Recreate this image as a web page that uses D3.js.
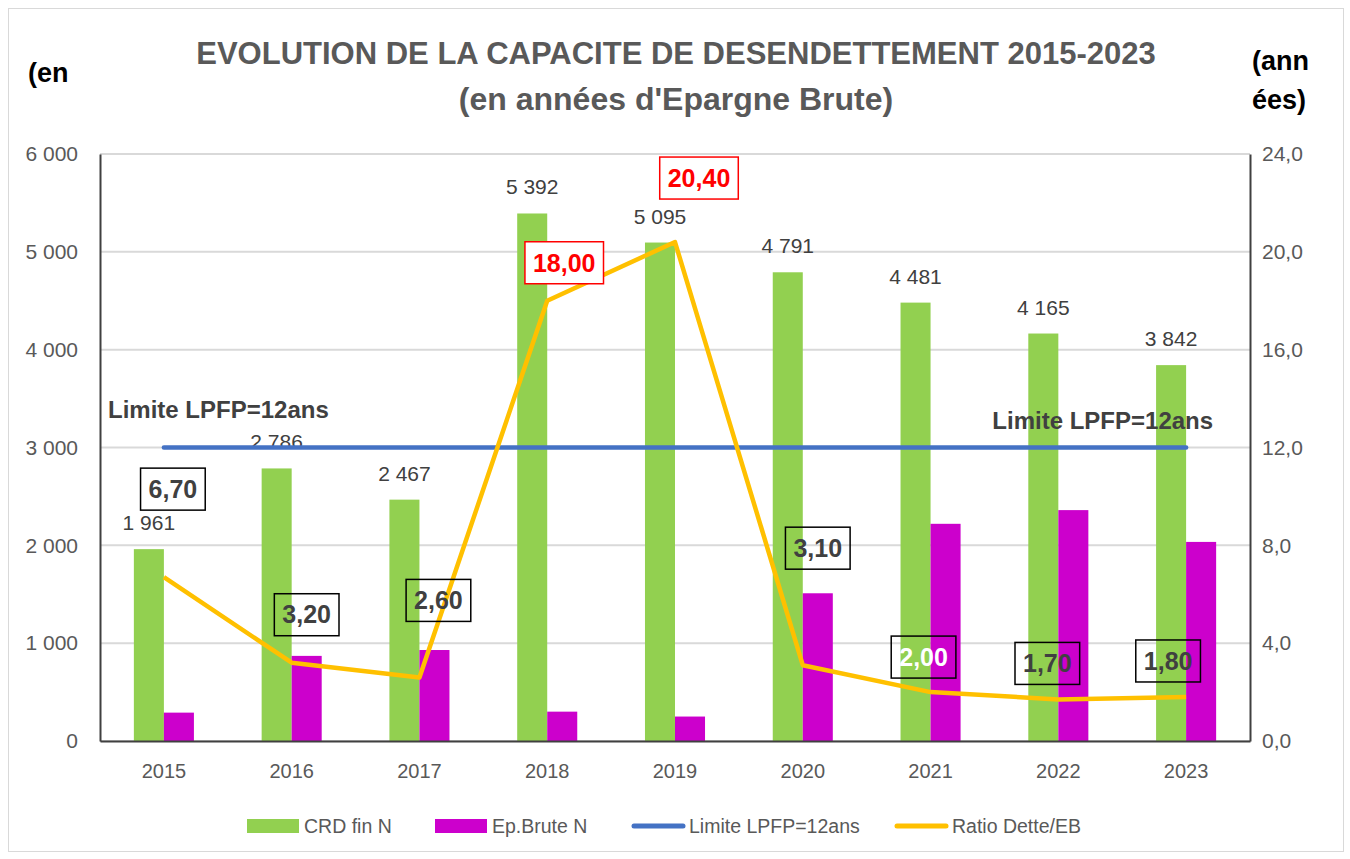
<!DOCTYPE html>
<html>
<head>
<meta charset="utf-8">
<script src="https://cdn.jsdelivr.net/npm/d3@7"></script>
<style>
  body { margin: 0; background: #fff; }
  text { font-family: "Liberation Sans", Arial, sans-serif; }
</style>
</head>
<body>
<div id="chart"></div>
<script>
// data
var years = ['2015', '2016', '2017', '2018', '2019', '2020', '2021', '2022', '2023'];
var crdFin = [1961, 2786, 2467, 5392, 5095, 4791, 4481, 4165, 3842];
var epBrute = [290, 870, 930, 300, 250, 1510, 2220, 2360, 2035];
var ratio = [6.70, 3.20, 2.60, 18.00, 20.40, 3.10, 2.00, 1.70, 1.80];
var limite = [12, 12, 12, 12, 12, 12, 12, 12, 12];
var leftTicks = [0, 1000, 2000, 3000, 4000, 5000, 6000];
var rightTicks = [0, 4, 8, 12, 16, 20, 24];

// label placement (offset from the line point, px)
var ratioLabelOffset = [[9, -88], [15, -48], [19, -77], [17, -38], [24, -64], [15, -117], [-7, -35], [-11, -36], [-18, -36]];
var ratioLabelStyle = ['dark', 'dark', 'dark', 'red', 'red', 'dark', 'white', 'dark', 'dark'];

var dimensions = {
  width: 1350,
  height: 859,
  margin: { top: 154, bottom: 118, left: 100, right: 100 }
};
dimensions.containerWidth = dimensions.width - dimensions.margin.left - dimensions.margin.right;
dimensions.containerHeight = dimensions.height - dimensions.margin.top - dimensions.margin.bottom;

var svg = d3.select('#chart')
  .append('svg')
  .attr('width', dimensions.width)
  .attr('height', dimensions.height);

// outer frame
svg.append('rect')
  .attr('x', 8.5).attr('y', 8.5)
  .attr('width', 1335).attr('height', 843)
  .attr('fill', '#fff')
  .attr('stroke', '#d9d9d9');

var container = svg.append('g')
  .attr('transform', 'translate(' + dimensions.margin.left + ',' + dimensions.margin.top + ')');

// scales
var xScale = d3.scaleBand()
  .domain(years)
  .range([0, dimensions.containerWidth]);

var yLeft = d3.scaleLinear()
  .domain([0, 6000])
  .range([dimensions.containerHeight, 0]);

var yRight = d3.scaleLinear()
  .domain([0, 24])
  .range([dimensions.containerHeight, 0]);

var barW = xScale.bandwidth() * 0.235;
var cx = (d) => xScale(d) + xScale.bandwidth() / 2;

// gridlines
container.append('g')
  .selectAll('line')
  .data(leftTicks)
  .join('line')
  .attr('x1', 0)
  .attr('x2', dimensions.containerWidth)
  .attr('y1', d => yLeft(d))
  .attr('y2', d => yLeft(d))
  .attr('stroke', '#d9d9d9')
  .attr('stroke-width', 2);

// bars
container.append('g')
  .selectAll('rect')
  .data(years)
  .join('rect')
  .attr('x', d => cx(d) - barW)
  .attr('y', (d, i) => yLeft(crdFin[i]))
  .attr('width', barW)
  .attr('height', (d, i) => dimensions.containerHeight - yLeft(crdFin[i]))
  .attr('fill', '#92d050');

container.append('g')
  .selectAll('rect')
  .data(years)
  .join('rect')
  .attr('x', d => cx(d))
  .attr('y', (d, i) => yLeft(epBrute[i]))
  .attr('width', barW)
  .attr('height', (d, i) => dimensions.containerHeight - yLeft(epBrute[i]))
  .attr('fill', '#cc00cc');

// bar value labels
var fmtInt = (v) => d3.format(',')(v).replace(/,/g, ' ');
container.append('g')
  .selectAll('text')
  .data(years)
  .join('text')
  .attr('x', d => cx(d) - barW / 2)
  .attr('y', (d, i) => yLeft(crdFin[i]) - 19)
  .attr('text-anchor', 'middle')
  .attr('font-size', 21)
  .attr('fill', '#404040')
  .text((d, i) => fmtInt(crdFin[i]));

// limit line
var line = (ys) => d3.line()
  .x((d, i) => cx(years[i]))
  .y(d => ys(d));

container.append('path')
  .datum(limite)
  .attr('d', line(yRight))
  .attr('fill', 'none')
  .attr('stroke', '#4472c4')
  .attr('stroke-width', 4.5)
  .attr('stroke-linecap', 'round');

// ratio line
container.append('path')
  .datum(ratio)
  .attr('d', line(yRight))
  .attr('fill', 'none')
  .attr('stroke', '#ffc000')
  .attr('stroke-width', 4.5)
  .attr('stroke-linejoin', 'round');

// limit text
container.append('text')
  .attr('x', 8)
  .attr('y', yRight(12) - 30)
  .attr('font-size', 24)
  .attr('font-weight', 'bold')
  .attr('fill', '#404040')
  .text('Limite LPFP=12ans');

container.append('text')
  .attr('x', cx(years[8]) + 27)
  .attr('y', yRight(12) - 19)
  .attr('text-anchor', 'end')
  .attr('font-size', 24)
  .attr('font-weight', 'bold')
  .attr('fill', '#404040')
  .text('Limite LPFP=12ans');

// ratio labels
var fmtDec = (v) => v.toFixed(2).replace('.', ',');
var labels = container.append('g')
  .selectAll('g')
  .data(ratio)
  .join('g')
  .attr('transform', (d, i) => 'translate(' + (cx(years[i]) + ratioLabelOffset[i][0]) + ',' + (yRight(d) + ratioLabelOffset[i][1]) + ')');

labels.append('text')
  .attr('text-anchor', 'middle')
  .attr('dy', '0.35em')
  .attr('font-size', 25)
  .attr('font-weight', 'bold')
  .attr('fill', (d, i) => ratioLabelStyle[i] === 'red' ? '#ff0000' : ratioLabelStyle[i] === 'white' ? '#ffffff' : '#404040')
  .text(d => fmtDec(d));

labels.each(function(d, i) {
  var g = d3.select(this);
  var bb = g.select('text').node().getBBox();
  g.insert('rect', 'text')
    .attr('x', bb.x - 8)
    .attr('y', -21)
    .attr('width', bb.width + 16)
    .attr('height', 42)
    .attr('fill', ratioLabelStyle[i] === 'red' ? '#ffffff' : 'none')
    .attr('stroke', ratioLabelStyle[i] === 'red' ? '#ff0000' : '#000')
    .attr('stroke-width', 1.5);
});

// axes
var xAxis = d3.axisBottom(xScale).tickSize(0).tickPadding(23);
var xAxisGroup = container.append('g')
  .attr('transform', 'translate(0,' + dimensions.containerHeight + ')')
  .call(xAxis);
xAxisGroup.select('.domain').attr('stroke', '#404040').attr('stroke-width', 2);
xAxisGroup.selectAll('text').attr('font-size', 20).attr('fill', '#595959')
  .attr('font-family', '"Liberation Sans", Arial, sans-serif');

var yAxisL = d3.axisLeft(yLeft).tickValues(leftTicks).tickSize(0).tickPadding(22)
  .tickFormat(fmtInt);
var yAxisLGroup = container.append('g').call(yAxisL);
yAxisLGroup.select('.domain').attr('stroke', '#404040').attr('stroke-width', 2);
yAxisLGroup.selectAll('text').attr('font-size', 21).attr('fill', '#595959')
  .attr('font-family', '"Liberation Sans", Arial, sans-serif');

var yAxisR = d3.axisRight(yRight).tickValues(rightTicks).tickSize(0).tickPadding(12)
  .tickFormat(d => d.toFixed(1).replace('.', ','));
var yAxisRGroup = container.append('g')
  .attr('transform', 'translate(' + dimensions.containerWidth + ',0)')
  .call(yAxisR);
yAxisRGroup.select('.domain').attr('stroke', '#404040').attr('stroke-width', 2);
yAxisRGroup.selectAll('text').attr('font-size', 21).attr('fill', '#595959')
  .attr('font-family', '"Liberation Sans", Arial, sans-serif');

// titles
svg.append('text')
  .attr('x', 676).attr('y', 64)
  .attr('text-anchor', 'middle')
  .attr('font-size', 31)
  .attr('font-weight', 'bold')
  .attr('fill', '#595959')
  .text('EVOLUTION DE LA CAPACITE DE DESENDETTEMENT 2015-2023');

svg.append('text')
  .attr('x', 676).attr('y', 110)
  .attr('text-anchor', 'middle')
  .attr('font-size', 32)
  .attr('font-weight', 'bold')
  .attr('fill', '#595959')
  .text("(en années d'Epargne Brute)");

svg.append('text')
  .attr('x', 28).attr('y', 82)
  .attr('font-size', 27).attr('font-weight', 'bold').attr('fill', '#000')
  .text('(en');
svg.append('text')
  .attr('x', 1252).attr('y', 70)
  .attr('font-size', 27).attr('font-weight', 'bold').attr('fill', '#000')
  .text('(ann');
svg.append('text')
  .attr('x', 1252).attr('y', 109)
  .attr('font-size', 27).attr('font-weight', 'bold').attr('fill', '#000')
  .text('ées)');

// legend
var legendItems = [
  { name: 'CRD fin N', color: '#92d050', type: 'rect', x: 247 },
  { name: 'Ep.Brute N', color: '#cc00cc', type: 'rect', x: 435 },
  { name: 'Limite LPFP=12ans', color: '#4472c4', type: 'line', x: 632 },
  { name: 'Ratio Dette/EB', color: '#ffc000', type: 'line', x: 895 }
];
var legend = svg.append('g')
  .selectAll('g')
  .data(legendItems)
  .join('g')
  .attr('transform', d => 'translate(' + d.x + ',826)');

legend.filter(d => d.type === 'rect')
  .append('rect')
  .attr('x', 0).attr('y', -7)
  .attr('width', 52).attr('height', 14)
  .attr('fill', d => d.color);

legend.filter(d => d.type === 'line')
  .append('line')
  .attr('x1', 2).attr('x2', 51)
  .attr('stroke', d => d.color)
  .attr('stroke-width', 5)
  .attr('stroke-linecap', 'round');

legend.append('text')
  .attr('x', d => d.type === 'rect' ? 57 : 57)
  .attr('dy', '0.35em')
  .attr('font-size', 19.5)
  .attr('fill', '#595959')
  .text(d => d.name);
</script>
</body>
</html>
